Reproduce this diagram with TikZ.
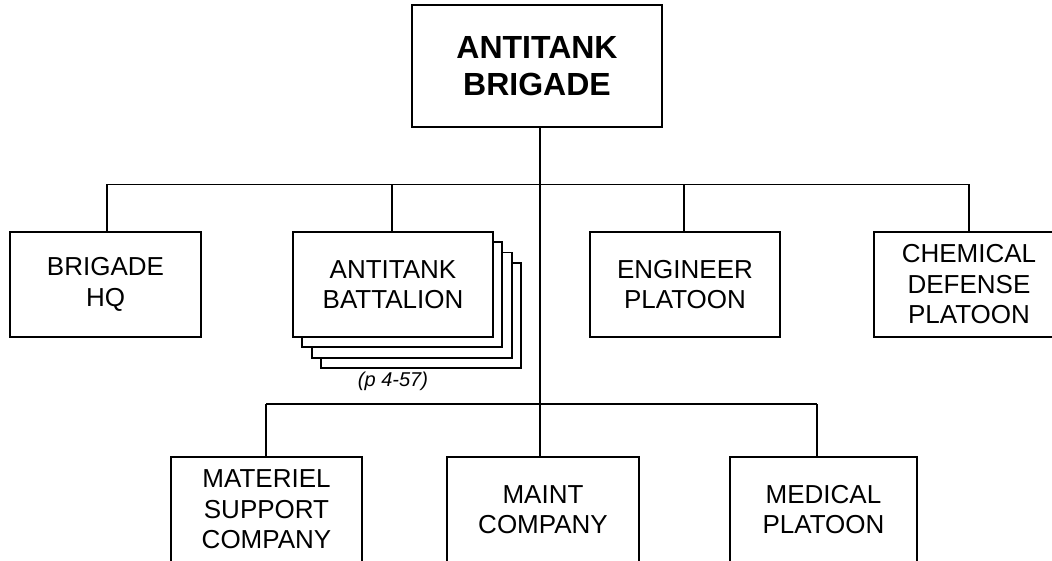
\documentclass[tikz,border=0pt]{standalone}
\usepackage{fontspec}
\setmainfont{Liberation Sans}
\begin{document}
\begin{tikzpicture}[x=1pt,y=-1pt,
  line width=1.8pt,
  unit/.style={draw, fill=white, inner sep=0pt, minimum height=105pt, align=center,
    font=\fontsize{26}{30.5}\selectfont},
  topunit/.style={draw, fill=white, inner sep=0pt, align=center,
    font=\fontsize{32}{36.7}\selectfont\bfseries},
  conn/.style={line width=1.8pt}]
\useasboundingbox (0,0) rectangle (1052,561);
\clip (0,0) rectangle (1052,561);
% top
\node[topunit, minimum width=250pt, minimum height=122pt] (top) at (537,66) {ANTITANK\\BRIGADE};
% second row
\node[unit, minimum width=191pt] (hq) at (105.5,284.5) {BRIGADE\\HQ};
\node[unit, minimum width=200pt] (bn3) at (420.9,315.4) {};
\node[unit, minimum width=200pt] (bn2) at (411.6,305.1) {};
\node[unit, minimum width=200pt] (bn1) at (402.3,294.8) {};
\node[unit, minimum width=200pt] (bn) at (393,284.5) {ANTITANK\\BATTALION};
\node[unit, minimum width=190pt] (eng) at (685,284.5) {ENGINEER\\PLATOON};
\node[unit, minimum width=190pt] (chem) at (969,284.5) {CHEMICAL\\DEFENSE\\PLATOON};
\node[font=\fontsize{20}{24}\selectfont\itshape, inner sep=0pt, anchor=base] (ref) at (393,386.5) {(p 4-57)};
% third row
\node[unit, minimum width=191pt] (mat) at (266.5,509.5) {MATERIEL\\SUPPORT\\COMPANY};
\node[unit, minimum width=192pt] (maint) at (543,509.5) {MAINT\\COMPANY};
\node[unit, minimum width=187pt] (med) at (823.5,509.5) {MEDICAL\\PLATOON};
% buses
\coordinate (b1) at (540,184.5);
\coordinate (b2) at (540,404);
\coordinate (b1hq) at (107,184.5);
\coordinate (b1bn) at (392,184.5);
\coordinate (b1eng) at (684,184.5);
\coordinate (b1chem) at (969,184.5);
\coordinate (b2mat) at (266,404);
\coordinate (b2maint) at (540,404);
\coordinate (b2med) at (817,404);
\draw[conn] (top.south -| b1) -- (b2);
\draw[conn] (b1hq) -- (b1chem);
\draw[conn] (b2mat) -- (b2med);
\draw[conn] (b1hq) -- (b1hq |- hq.north);
\draw[conn] (b1bn) -- (b1bn |- bn.north);
\draw[conn] (b1eng) -- (b1eng |- eng.north);
\draw[conn] (b1chem) -- (b1chem |- chem.north);
\draw[conn] (b2mat) -- (b2mat |- mat.north);
\draw[conn] (b2maint) -- (b2maint |- maint.north);
\draw[conn] (b2med) -- (b2med |- med.north);
\end{tikzpicture}
\end{document}
